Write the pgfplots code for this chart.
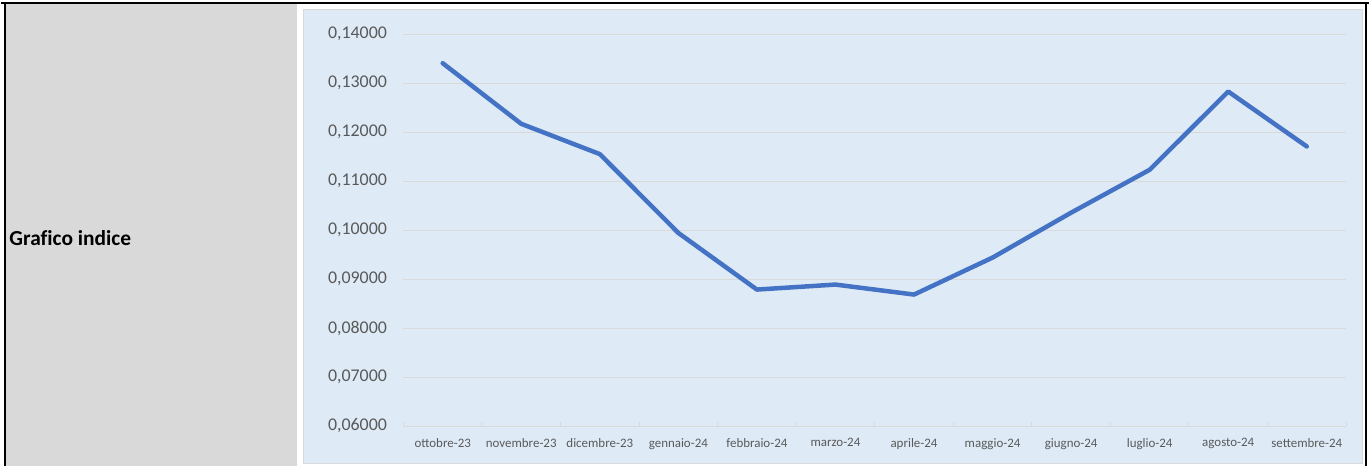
\documentclass[border=0pt]{standalone}
\usepackage{pgfplots}
\pgfplotsset{compat=1.18}
\usepackage{fontspec}
\setmainfont{Carlito}
\definecolor{cellgrey}{HTML}{D9D9D9}
\definecolor{chartbg}{HTML}{DEEBF7}
\definecolor{gridc}{HTML}{D9D9D9}
\definecolor{linec}{HTML}{4472C4}
\definecolor{labc}{HTML}{595959}
\begin{document}
\begin{tikzpicture}[x=1bp,y=1bp]
\fill[white] (0,0) rectangle (1370,467);
\fill[cellgrey] (5,0) rectangle (296,463);
\fill[chartbg] (302,2) rectangle (1364,457);
\draw[gridc, line width=1bp] (302.5,2.5) rectangle (1363.5,457.5);
\draw[black, line width=2bp] (0,464) -- (1370,464);
\draw[black, line width=2bp] (4.3,0) -- (4.3,465);
\draw[black, line width=2bp] (1367,0) -- (1367,465);
\node[anchor=base west, inner sep=0pt, font=\fontsize{21.5}{24}\selectfont\bfseries] at (8.3,221.3) {Graf\kern0ptico indice};
\begin{axis}[
  at={(403bp,40.3bp)}, anchor=south west,
  scale only axis, width=944bp, height=392.4bp,
  xmin=-0.5, xmax=11.5, ymin=0.06, ymax=0.14,
  axis x line*=bottom, axis y line*=left,
  x axis line style={gridc, line width=1bp, -},
  y axis line style={draw=none},
  xtick={-0.5,0.5,...,11.5},
  x tick label as interval,
  xticklabels={ottobre-23,novembre-23,dicembre-23,gennaio-24,febbraio-24,marzo-24,aprile-24,maggio-24,giugno-24,luglio-24,agosto-24,settembre-24},
  tick align=inside, major tick length=4bp,
  xtick style={gridc, line width=1bp},
  ytick={0.06,0.07,...,0.141},
  ytick style={draw=none},
  ymajorgrids, grid style={gridc, line width=1bp},
  scaled y ticks=false,
  /pgf/number format/assume math mode=true,
  /pgf/number format/fixed,
  /pgf/number format/fixed zerofill,
  /pgf/number format/precision=5,
  /pgf/number format/use comma,
  /pgf/number format/1000 sep={},
  yticklabel style={font=\fontsize{18}{20}\selectfont, text=labc, xshift=-13bp},
  xticklabel style={font=\fontsize{13}{15}\selectfont, text=labc, yshift=-9bp},
  clip=false,
]
\addplot[linec, line width=4.5bp, line join=round, line cap=round] coordinates {
(0,0.13409) (1,0.12171) (2,0.11553) (3,0.09943) (4,0.08787) (5,0.08889)
(6,0.08685) (7,0.0944) (8,0.10357) (9,0.11233) (10,0.1283) (11,0.11709)
};
\end{axis}
\end{tikzpicture}
\end{document}
